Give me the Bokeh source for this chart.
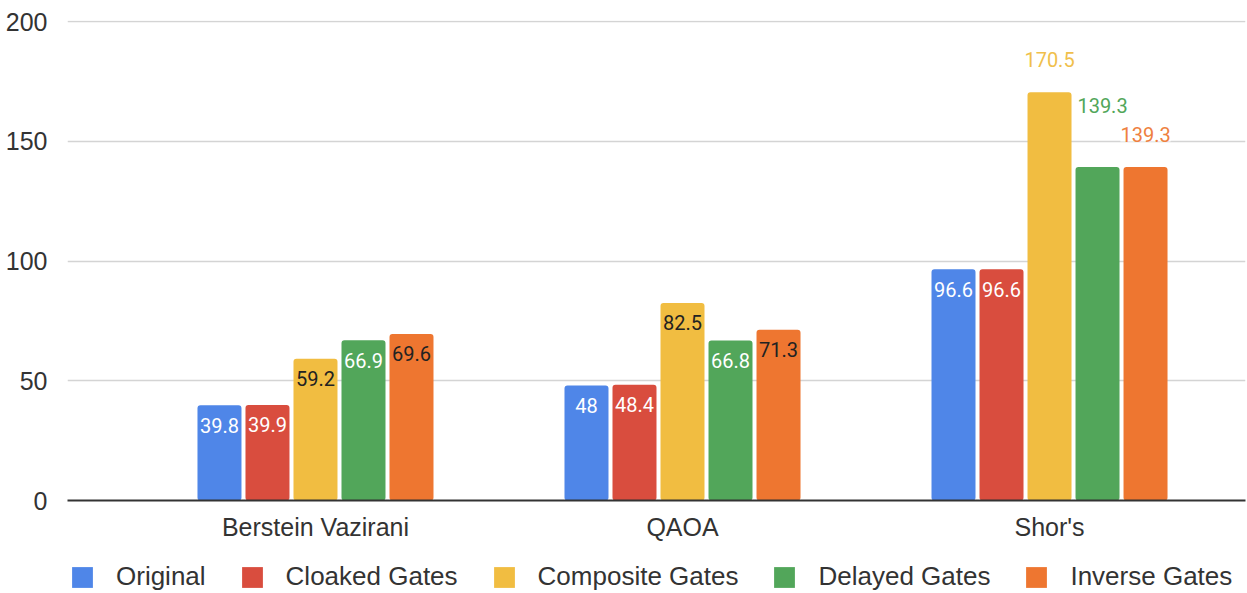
from bokeh.plotting import figure
from bokeh.layouts import column
from bokeh.models import ColumnDataSource, FixedTicker, Legend, LegendItem, Range1d
from bokeh.core.properties import value
from bokeh.embed import file_html
from bokeh.resources import INLINE

# ---- data ----
categories = ["Berstein Vazirani", "QAOA", "Shor's"]
series_names = ["Original", "Cloaked Gates", "Composite Gates", "Delayed Gates", "Inverse Gates"]
original = [39.8, 48.0, 96.6]
cloaked = [39.9, 48.4, 96.6]
composite = [59.2, 82.5, 170.5]
delayed = [66.9, 66.8, 139.3]
inverse = [69.6, 71.3, 139.3]
y_ticks = [0, 50, 100, 150, 200]

series_values = [original, cloaked, composite, delayed, inverse]
colors = ["#4f86e8", "#d94d3e", "#f1bd41", "#52a65a", "#ee7630"]
inside_text = ["#ffffff", "#ffffff", "#222222", "#ffffff", "#222222"]
outside_text = ["#4f86e8", "#d94d3e", "#f0bf4c", "#52a65a", "#ee8040"]

W = 1247
H_MAIN, H_LEG = 555, 38
LEFT, RIGHT, TOP, BOTTOM = 67, 2, 20, 55
FRAME_H = H_MAIN - TOP - BOTTOM
Y_MAX = 200.5
px_per_unit = FRAME_H / Y_MAX

bar_step = 0.1308
bar_w = 0.1199

p = figure(width=W, height=H_MAIN, output_backend="svg", toolbar_location=None,
           x_range=Range1d(-0.6757, 2.534), y_range=Range1d(0, Y_MAX),
           min_border_left=LEFT, min_border_right=RIGHT, min_border_top=TOP,
           min_border_bottom=BOTTOM)
p.outline_line_color = None
p.background_fill_color = "white"
p.border_fill_color = "white"

# legend strip: its own small figure (legend inside its frame); same data, view window empty
pl = figure(width=W, height=H_LEG, output_backend="svg", toolbar_location=None,
            x_range=Range1d(10, 11), y_range=Range1d(1000, 1001),
            x_axis_location=None, y_axis_location=None, min_border=0)
pl.outline_line_color = None
pl.grid.visible = False

renderers, proxies = [], []
lab_x, lab_y, lab_t, lab_c, lab_bg = [], [], [], [], []
for s, (name, vals) in enumerate(zip(series_names, series_values)):
    xs = [g + (s - 2) * bar_step for g in range(len(categories))]
    src = ColumnDataSource(dict(x=xs, top=vals))
    r = p.vbar(x="x", top="top", width=bar_w, bottom=0, source=src,
               fill_color=colors[s], line_color=None, border_radius=3)
    renderers.append(r)
    proxies.append(pl.vbar(x="x", top="top", width=bar_w, bottom=0, source=src,
                           fill_color=colors[s], line_color=None, border_radius=2))
    for g, v in enumerate(vals):
        outside = v > 100 and s >= 2
        if outside:
            dy = 33
            # bump label up if the next series has an equal-height outside label
            if s + 1 < len(series_values) and series_values[s + 1][g] == v:
                dy += 29
            lab_y.append(v + dy / px_per_unit)
            lab_c.append(outside_text[s])
            lab_bg.append("#ffffff")
            lab_x.append(xs[g] + (5 / 367 if dy > 33 else 0))
        else:
            lab_y.append(v - 20 / px_per_unit)
            lab_c.append(inside_text[s])
            lab_bg.append(colors[s])
            lab_x.append(xs[g])
        lab_t.append(f"{v:g}")

lsrc = ColumnDataSource(dict(x=lab_x, y=lab_y, t=lab_t, c=lab_c, bg=lab_bg))
p.text(x="x", y="y", text="t", source=lsrc, text_color="c",
       text_font=value("Roboto"), text_font_size="20px",
       text_align="center", text_baseline="middle",
       background_fill_color="bg")

# axes
p.yaxis.ticker = FixedTicker(ticks=y_ticks)
p.yaxis.axis_line_color = None
p.yaxis.major_tick_line_color = None
p.yaxis.minor_tick_line_color = None
p.yaxis.major_label_text_font = "Liberation Sans"
p.yaxis.major_label_text_font_size = "25px"
p.yaxis.major_label_text_color = "#333333"
p.yaxis.major_label_standoff = 14

p.xaxis.ticker = FixedTicker(ticks=[0, 1, 2])
p.xaxis.major_label_overrides = {i: c for i, c in enumerate(categories)}
p.xaxis.axis_line_color = "#333333"
p.xaxis.axis_line_width = 2
p.xaxis.major_tick_line_color = None
p.xaxis.minor_tick_line_color = None
p.xaxis.major_label_text_font = "Liberation Sans"
p.xaxis.major_label_text_font_size = "25px"
p.xaxis.major_label_text_color = "#333333"
p.xaxis.major_label_standoff = 6

p.xgrid.grid_line_color = None
p.ygrid.grid_line_color = "#d4d4d4"
p.ygrid.grid_line_width = 1.5

legend = Legend(items=[LegendItem(label=n, renderers=[r]) for n, r in zip(series_names, proxies)],
                orientation="horizontal", location=(2, 1),
                label_text_font="Liberation Sans", label_text_font_size="26px",
                label_text_color="#333333", glyph_width=26, glyph_height=26,
                label_standoff=21, spacing=33, padding=0, margin=0,
                border_line_color=None, background_fill_alpha=0)
pl.add_layout(legend, "center")

layout = column(p, pl, spacing=0)
open("out.html", "w").write(file_html(layout, INLINE))
